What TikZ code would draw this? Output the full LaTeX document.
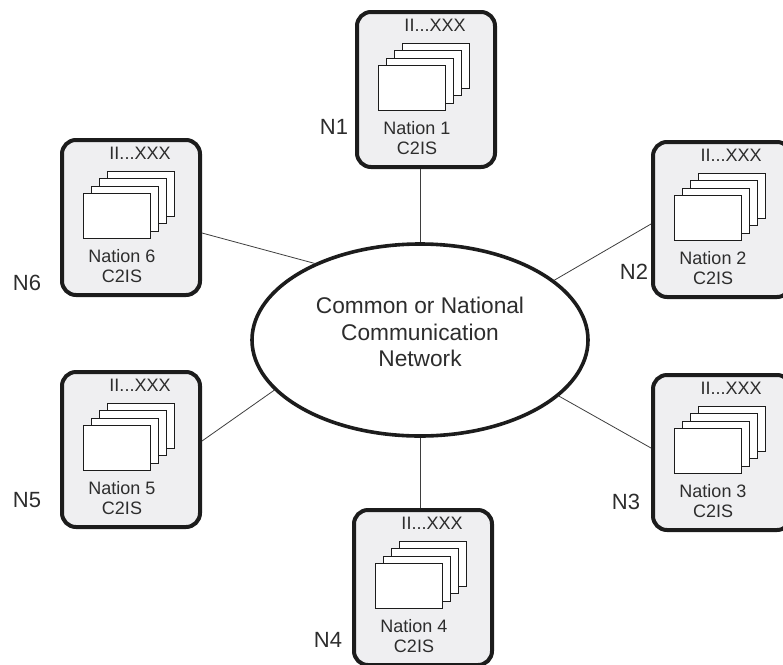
\documentclass[tikz,border=0pt]{standalone}
\usepackage{fontspec}
\setmainfont{Liberation Sans}
\usetikzlibrary{shapes.geometric,calc}

\definecolor{boxfill}{RGB}{239,239,241}
\definecolor{ink}{RGB}{28,28,28}
\definecolor{txt}{RGB}{45,45,45}

\tikzset{
  unitbox/.style={draw=ink, line width=4pt, fill=boxfill, rounded corners=14pt,
    minimum width=138pt, minimum height=155pt, inner sep=0pt},
  page/.style={draw=ink, line width=0.8pt, fill=white,
    minimum width=67pt, minimum height=45pt, inner sep=0pt},
  unittext/.style={text=txt, inner sep=0pt, font=\fontsize{18}{20}\selectfont},
  netshape/.style={draw=ink, line width=3.6pt, ellipse, fill=white,
    minimum width=336pt, minimum height=192pt, inner sep=0pt},
  nettext/.style={text=txt, align=center, inner sep=0pt,
    font=\fontsize{22.7}{26.5}\selectfont},
  tag/.style={text=txt, inner sep=0pt, font=\fontsize{22}{24}\selectfont},
  link/.style={draw=ink!85, line width=0.8pt},
}

% One national C2IS: rounded frame, a stack of four pages, header and name
\newcommand{\NationUnit}[4]{% #1 node name, #2 left, #3 top, #4 nation number
  \node[unitbox, anchor=north west] (#1) at (#2,#3) {};
  \foreach \k in {3,2,1,0} {
    \node[page, anchor=north west] (#1-p\k) at ($(#1.north west)+(23+8*\k,55-7.5*\k)$) {};
  }
  \node[unittext] (#1-hdr) at ($(#1.north west)+(80,15)$) {II...XXX};
  \node[unittext, align=center] (#1-name) at ($(#1.north west)+(62,128)$) {Nation #4\\C2IS};
}

\begin{document}
\begin{tikzpicture}[x=1pt,y=-1pt]
  \useasboundingbox (0,0) rectangle (783,664);
  \clip (0,0) rectangle (783,664);

  % central network
  \node[netshape] (net) at (420,340) {};
  \node[nettext] (net-label) at (420,332) {Common or National\\Communication\\Network};

  % the six nations
  \NationUnit{b1}{355}{10}{1}
  \NationUnit{b2}{651}{140}{2}
  \NationUnit{b3}{651}{373}{3}
  \NationUnit{b4}{352}{508}{4}
  \NationUnit{b5}{60}{370}{5}
  \NationUnit{b6}{60}{138}{6}

  % labels
  \node[tag] (n1) at (334,127) {N1};
  \node[tag] (n2) at (634,272) {N2};
  \node[tag] (n3) at (626,502) {N3};
  \node[tag] (n4) at (328,640) {N4};
  \node[tag] (n5) at (27,500) {N5};
  \node[tag] (n6) at (27,283) {N6};

  % ports where the links meet the frames
  \coordinate (b2-port) at ($(b2.north west)+(0,84)$);
  \coordinate (b3-port) at ($(b3.north west)+(0,75)$);
  \coordinate (b5-port) at ($(b5.north east)+(0,71)$);
  \coordinate (b6-port) at ($(b6.north east)+(0,95)$);

  % links to the network
  \draw[link] (net.90) -- (net.90 |- b1.south);
  \draw[link] (net.270) -- (net.270 |- b4.north);
  \draw[link] (b2-port) -- (net.24.3);
  \draw[link] (b3-port) -- (net.338.3);
  \draw[link] (b5-port) -- (net.199.4);
  \draw[link] (b6-port) -- (net.144.5);
\end{tikzpicture}
\end{document}
